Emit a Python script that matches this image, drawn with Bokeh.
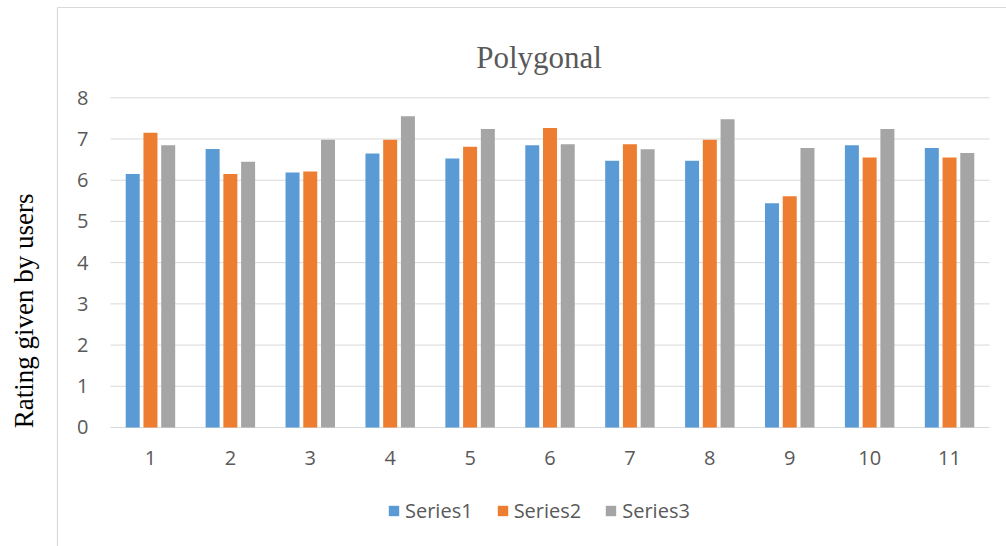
import math
from bokeh.plotting import figure
from bokeh.models import Range1d, Legend, LegendItem
from bokeh.core.properties import value
from bokeh.embed import file_html
from bokeh.resources import INLINE
import numpy as np

# ---- data ----
categories = [1, 2, 3, 4, 5, 6, 7, 8, 9, 10, 11]
category_labels = ["1", "2", "3", "4", "5", "6", "7", "8", "9", "10", "11"]
series1 = [6.15, 6.76, 6.19, 6.65, 6.53, 6.85, 6.47, 6.47, 5.44, 6.85, 6.78]
series2 = [7.15, 6.15, 6.21, 6.98, 6.81, 7.27, 6.87, 6.98, 5.61, 6.55, 6.55]
series3 = [6.85, 6.45, 6.98, 7.55, 7.24, 6.87, 6.75, 7.48, 6.78, 7.24, 6.66]
series_names = ["Series1", "Series2", "Series3"]
y_ticks = [0, 1, 2, 3, 4, 5, 6, 7, 8]
y_tick_labels = [str(t) for t in y_ticks]
title_text = "Polygonal"
y_label = "Rating given by users"

# ---- style / layout ----
colors = ["#5B9BD5", "#ED7D31", "#A5A5A5"]
TEXT = "#595959"
GRID = "#D9D9D9"
SANS = "Open Sans"
SERIF = "Liberation Serif"
X_START, X_END = -0.8766, 11.7127
Y_START, Y_END = -2.8875, 10.361
BOX_LEFT, BOX_TOP = -0.1633, 10.191
LABEL_Y = 2.83

p = figure(width=1006, height=546, output_backend="svg", toolbar_location=None,
           x_axis_location=None, y_axis_location=None,
           x_range=Range1d(X_START, X_END), y_range=Range1d(Y_START, Y_END),
           min_border_left=0, min_border_right=0, min_border_top=0, min_border_bottom=0)
p.outline_line_color = None
p.background_fill_color = "white"
p.border_fill_color = "white"
p.grid.visible = False

# chart box border (left & top)
p.segment(x0=[BOX_LEFT, BOX_LEFT], y0=[BOX_TOP, BOX_TOP], x1=[X_END, BOX_LEFT], y1=[BOX_TOP, Y_START],
          line_color=GRID, line_width=1.2)

# grid lines across the plot area
x_lo = categories[0] - 0.5
x_hi = categories[-1] + 0.5
p.segment(x0=[x_lo] * len(y_ticks), x1=[x_hi] * len(y_ticks), y0=y_ticks, y1=y_ticks,
          line_color=GRID, line_width=1)

# bars
cats = np.array(categories, dtype=float)
offsets = [-0.222, 0.0, 0.222]
items = []
for name, vals, col, off in zip(series_names, [series1, series2, series3], colors, offsets):
    r = p.vbar(x=cats + off, top=vals, bottom=0, width=0.175, fill_color=col, line_color=None)
    items.append(LegendItem(label=name, renderers=[r]))

# tick labels
p.text(x=[x_lo] * len(y_ticks), y=y_ticks, text=y_tick_labels, x_offset=-22,
       text_align="right", text_baseline="middle", text_font=value(SANS),
       text_font_size="20px", text_color=TEXT)
p.text(x=categories, y=[0] * len(categories), text=category_labels, y_offset=31,
       text_align="center", text_baseline="middle", text_font=value(SANS),
       text_font_size="20px", text_color=TEXT)

# title
p.text(x=[(x_lo + x_hi) / 2], y=[y_ticks[-1]], text=[title_text], x_offset=-11, y_offset=-40,
       text_align="center", text_baseline="alphabetic", text_font=value(SERIF),
       text_font_size="31px", text_color=TEXT)

# y axis title (outside the chart box)
p.text(x=[x_lo], y=[LABEL_Y], text=[y_label], x_offset=-87, angle=math.pi / 2,
       text_align="center", text_baseline="middle", text_font=value(SERIF),
       text_font_size="27px", text_color="black")

legend = Legend(items=items, orientation="horizontal", location=(387, 22),
                padding=0, margin=0, spacing=23, label_standoff=5,
                glyph_width=13, glyph_height=13,
                label_text_font=SANS, label_text_font_size="20px", label_text_color=TEXT,
                border_line_color=None, background_fill_alpha=0)
p.add_layout(legend, "center")

open("out.html", "w").write(file_html(p, INLINE))
